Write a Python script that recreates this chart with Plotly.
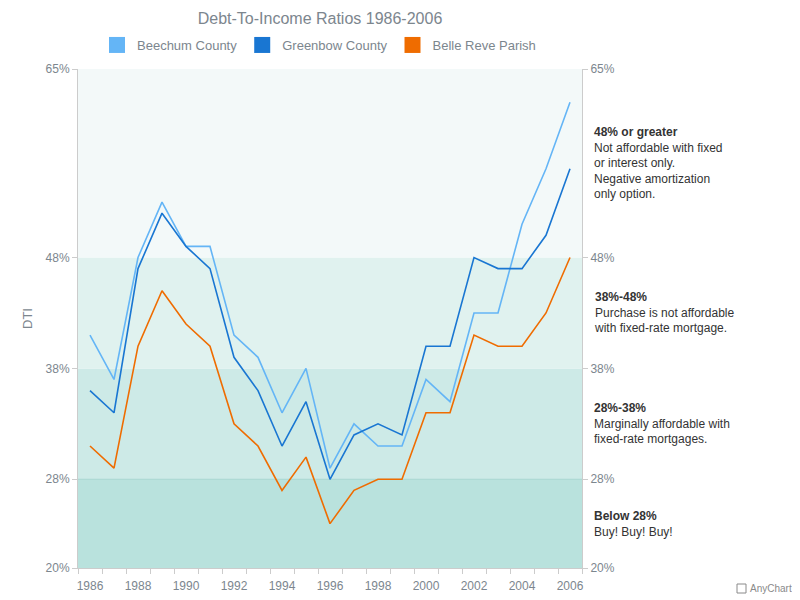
import plotly.graph_objects as go

years = list(range(1986, 2007))
beechum = [41, 37, 48, 53, 49, 49, 41, 39, 34, 38, 29, 33, 31, 31, 37, 35, 43, 43, 51, 56, 62]
greenbow = [36, 34, 47, 52, 49, 47, 39, 36, 31, 35, 28, 32, 33, 32, 40, 40, 48, 47, 47, 50, 56]
belle = [31, 29, 40, 45, 42, 40, 33, 31, 27, 30, 24, 27, 28, 28, 34, 34, 41, 40, 40, 43, 48]

series_names = ["Beechum County", "Greenbow County", "Belle Reve Parish"]
series_colors = ["#64b5f6", "#1976d2", "#ef6c00"]

band_edges = [20, 28, 38, 48, 65]
band_colors = ["#b9e2dd", "#cdeae7", "#e0f2ef", "#f3f9f9"]
band_titles = ["Below 28%", "28%-38%", "38%-48%", "48% or greater"]
band_texts = ["Buy! Buy! Buy!",
              "Marginally affordable with<br>fixed-rate mortgages.",
              "Purchase is not affordable<br>with fixed-rate mortgage.",
              "Not affordable with fixed<br>or interest only.<br>Negative amortization<br>only option."]

tick_vals = [20, 28, 38, 48, 65]
tick_text = [f"{v}%" for v in tick_vals]
x_labels = list(range(1986, 2007, 2))

FONT = "Liberation Sans, Arial, sans-serif"
GREY = "#7c868e"

fig = go.Figure()
for name, vals, col in zip(series_names, [beechum, greenbow, belle], series_colors):
    fig.add_trace(go.Scatter(x=years, y=vals, mode="lines", name=name,
                             line=dict(color=col, width=1.6), showlegend=False))
for name, col in zip(series_names, series_colors):
    fig.add_trace(go.Scatter(x=[None], y=[None], mode="markers", name=name,
                             marker=dict(symbol="square", size=16, color=col)))
# invisible trace to show the right axis
fig.add_trace(go.Scatter(x=[years[0]], y=[band_edges[0]], yaxis="y2", mode="markers",
                         marker=dict(opacity=0), showlegend=False, hoverinfo="skip"))

shapes = []
for i in range(len(band_colors)):
    shapes.append(dict(type="rect", xref="paper", yref="y", x0=0, x1=1,
                       y0=band_edges[i], y1=band_edges[i + 1],
                       fillcolor=band_colors[i], line=dict(width=0), layer="below"))
shapes.append(dict(type="line", xref="paper", yref="y", x0=0, x1=1, y0=28, y1=28,
                   line=dict(color="#a6d6d0", width=1), layer="below"))
# small AnyChart credit icon
shapes.append(dict(type="rect", xref="paper", yref="paper", xsizemode="pixel",
                   ysizemode="pixel", xanchor=1, yanchor=0, x0=155, x1=164, y0=-16, y1=-25,
                   line=dict(color="#8a8a8a", width=1), fillcolor="white"))

annotations = []
for i in range(len(band_titles)):
    mid = (band_edges[i] + band_edges[i + 1]) / 2
    annotations.append(dict(xref="paper", yref="y", x=1, y=mid, xshift=10,
                            xanchor="left", yanchor="middle", align="left", showarrow=False,
                            text=f"<b>{band_titles[i]}</b><br>{band_texts[i]}",
                            font=dict(family=FONT, size=12, color="#333333")))
annotations.append(dict(xref="paper", yref="paper", x=1, y=0, xshift=166, yshift=-20,
                        xanchor="left", yanchor="middle", showarrow=False,
                        text="AnyChart", font=dict(family=FONT, size=10, color="#8a8a8a")))

fig.update_layout(
    width=792, height=592,
    margin=dict(l=70, r=218, t=61, b=32),
    paper_bgcolor="white", plot_bgcolor="white",
    font=dict(family=FONT, size=12, color=GREY),
    title=dict(text="Debt-To-Income Ratios 1986-2006", x=312 / 792, xref="container",
               xanchor="center", y=1 - 10 / 592, yanchor="middle",
               font=dict(family=FONT, size=16, color=GREY)),
    legend=dict(orientation="h", xref="paper", x=(311 - 70) / 504, xanchor="center",
                y=1 + 24 / 499, yanchor="middle", itemwidth=30,
                font=dict(family=FONT, size=13, color=GREY)),
    xaxis=dict(range=[1985.5, 2006.5], tickmode="array", tickvals=x_labels,
               ticktext=[str(v) for v in x_labels], ticks="outside", ticklen=7,
               tickcolor="rgba(0,0,0,0)", showgrid=False, automargin=False,
               zeroline=False, showline=True, linecolor="#cccccc",
               minor=dict(tick0=1985.5, dtick=1, ticks="outside", ticklen=5,
                          tickcolor="#cccccc", showgrid=False),
               tickfont=dict(size=12, color=GREY)),
    yaxis=dict(range=[20, 65], tickmode="array", tickvals=tick_vals, ticktext=tick_text,
               ticks="outside", ticklen=5, tickcolor="#cccccc", showgrid=False,
               zeroline=False, showline=True, linecolor="#cccccc", automargin=False,
               title=dict(text="DTI", standoff=10, font=dict(size=13, color=GREY)),
               tickfont=dict(size=12, color=GREY)),
    yaxis2=dict(range=[20, 65], overlaying="y", side="right", tickmode="array",
                tickvals=tick_vals, ticktext=tick_text, ticks="outside", ticklen=5,
                tickcolor="#cccccc", showgrid=False, zeroline=False, showline=True,
                automargin=False,
                linecolor="#cccccc", tickfont=dict(size=12, color=GREY)),
    shapes=shapes,
    annotations=annotations,
)

fig.write_html("out.html")
